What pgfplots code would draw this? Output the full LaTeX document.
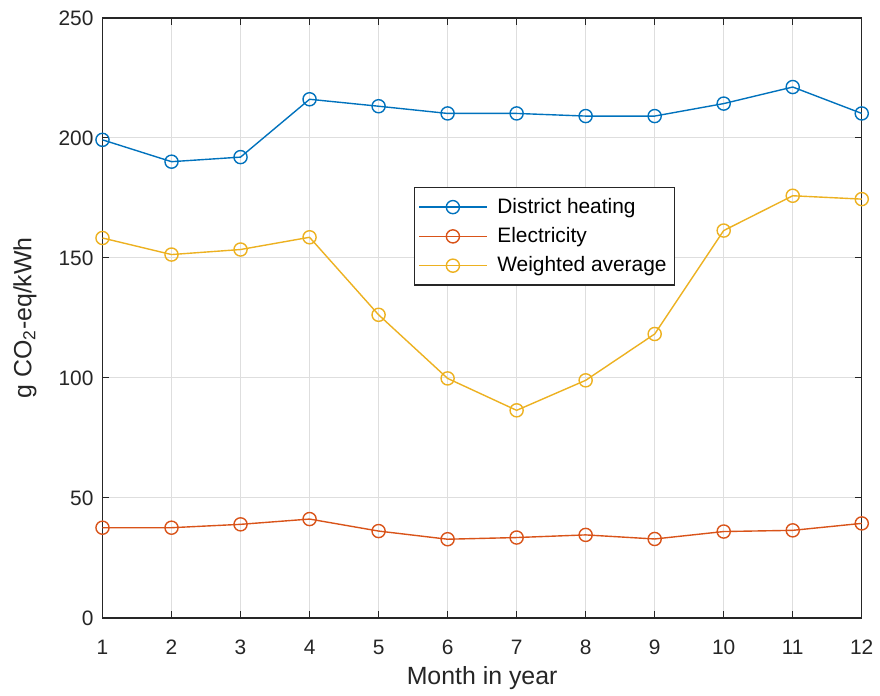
\documentclass[border=0pt]{standalone}
\usepackage{pgfplots}
\pgfplotsset{compat=1.18}
\usepackage{fontspec}
\setmainfont{Liberation Sans}

\definecolor{mblue}{rgb}{0,0.447,0.741}
\definecolor{morange}{rgb}{0.850,0.325,0.098}
\definecolor{myellow}{rgb}{0.929,0.694,0.125}
\definecolor{axgray}{rgb}{0.15,0.15,0.15}

\begin{document}
\begin{tikzpicture}
% full figure area (white background)
\path[fill=white] (-51.5pt,-37pt) rectangle (388.5pt,310.5pt);
\begin{axis}[
  scale only axis,
  width=381.5pt, height=301.5pt,
  xmin=1, xmax=12, ymin=0, ymax=250,
  xtick={1,...,12},
  ytick={0,50,...,250},
  /pgf/number format/assume math mode=true,
  tick label style={font=\fontsize{10.5}{12}\selectfont, text=axgray},
  xticklabel style={yshift=-7.5pt},
  yticklabel style={xshift=-1pt},
  label style={font=\fontsize{12.5}{14}\selectfont, text=axgray},
  xlabel={Month in year},
  ylabel={g CO\textsubscript{2}-eq/kWh},
  xlabel style={at={(axis description cs:0.5,-0.0995)}, anchor=center},
  ylabel style={at={(axis description cs:-0.102,0.5)}, anchor=center},
  axis line style={axgray, line width=0.6pt},
  tick style={axgray, line width=0.5pt},
  tickpos=both, tick align=inside,
  major tick length=3.5pt,
  grid=major,
  major grid style={black!13, line width=0.5pt},
  every axis plot/.append style={line width=0.7pt, mark=o, mark size=3.3pt},
  legend cell align=left,
  legend style={
    at={(axis description cs:0.410,0.718)}, anchor=north west,
    draw=axgray, line width=0.6pt, fill=white,
    font=\fontsize{10.5}{12.5}\selectfont,
    inner xsep=2pt, inner ysep=3.2pt,
    row sep=1.6pt,
    /tikz/every odd column/.append style={column sep=3pt},
  },
  legend image code/.code={
    \draw[mark repeat=2, mark phase=2, #1]
      plot coordinates {(0pt,0pt) (17pt,0pt) (34pt,0pt)};
  },
]
\addplot[color=mblue] coordinates {
  (1,199.2) (2,190.1) (3,192.0) (4,216.1) (5,213.2) (6,210.2)
  (7,210.2) (8,209.1) (9,209.1) (10,214.3) (11,221.2) (12,210.2)
};
\addlegendentry{District heating}
\addplot[color=morange] coordinates {
  (1,37.6) (2,37.6) (3,39.0) (4,41.2) (5,36.2) (6,32.8)
  (7,33.5) (8,34.6) (9,32.9) (10,36.0) (11,36.5) (12,39.4)
};
\addlegendentry{Electricity}
\addplot[color=myellow] coordinates {
  (1,158.3) (2,151.4) (3,153.5) (4,158.6) (5,126.3) (6,99.8)
  (7,86.5) (8,99.0) (9,118.3) (10,161.4) (11,175.9) (12,174.5)
};
\addlegendentry{Weighted average}
\end{axis}
\end{tikzpicture}
\end{document}
